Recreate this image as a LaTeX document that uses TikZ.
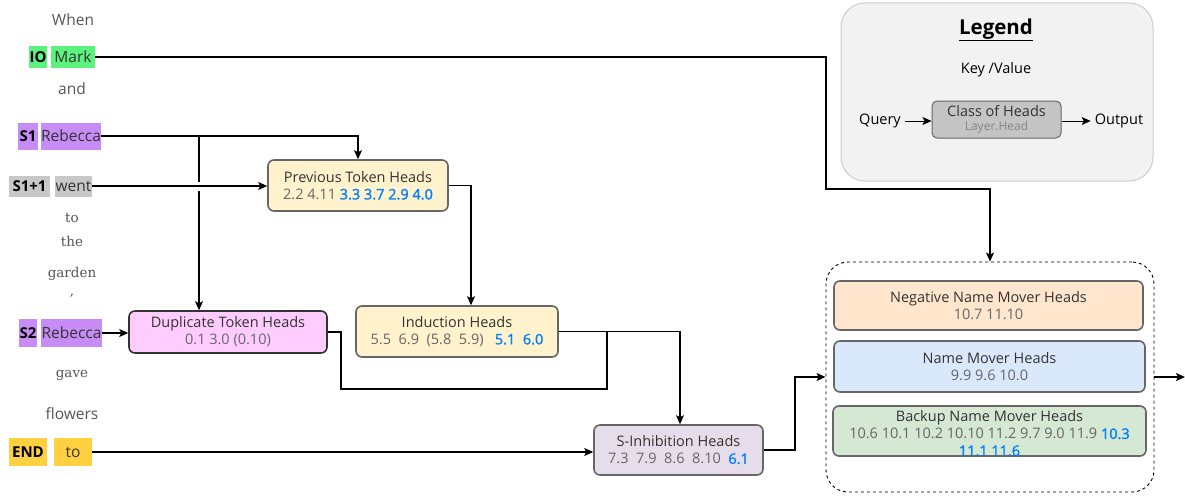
\documentclass[tikz,border=0pt]{standalone}
\usepackage{fontspec}
\setmainfont{Open Sans}
\newfontfamily\serifw{DejaVu Serif}
\newfontfamily\semib[FakeBold=1.4]{Open Sans}
\usetikzlibrary{arrows.meta,calc}
\definecolor{txt}{HTML}{333333}
\definecolor{num}{HTML}{666666}
\definecolor{word}{HTML}{555555}
\definecolor{hblue}{HTML}{007FFF}
\definecolor{iogreen}{HTML}{5CF27E}
\definecolor{spurple}{HTML}{C88CF7}
\definecolor{sgray}{HTML}{C8C8C8}
\definecolor{endyel}{HTML}{FFD040}
\definecolor{cream}{HTML}{FFF2CC}
\definecolor{pinkf}{HTML}{FFCCFF}
\definecolor{lilac}{HTML}{E6DDEA}
\definecolor{peach}{HTML}{FFE6CC}
\definecolor{lblue}{HTML}{DAE8FC}
\definecolor{lgreen}{HTML}{D5E8D4}
\definecolor{legbg}{HTML}{F2F2F2}
\definecolor{legbd}{HTML}{CCCCCC}
\definecolor{clsf}{HTML}{C4C4C4}
\newcommand{\bl}[1]{\textcolor{hblue}{\semib #1}}
\begin{document}
\begin{tikzpicture}[x=1pt,y=-1pt,
  font=\fontsize{14.5}{17}\selectfont,
  conn/.style={draw=black, line width=1.2pt, -{Stealth[length=9pt,width=8pt,inset=2pt]}},
  wire/.style={draw=black, line width=1.2pt},
  word/.style={text=word, inner sep=0pt, font=\fontsize{15.5}{18}\selectfont},
  sword/.style={text=word, inner sep=0pt, font=\serifw\fontsize{13.5}{16}\selectfont},
  tag/.style={inner sep=0pt, text=black, font=\fontsize{15}{18}\selectfont\bfseries},
  lab/.style={inner sep=0pt, text=txt, font=\fontsize{15.5}{18}\selectfont},
  head/.style={draw=num, line width=1.6pt, rounded corners=6pt, align=center, inner sep=0pt, text=txt},
]
\useasboundingbox (0,0) rectangle (1185,495);

% ---------- left column ----------
\node[word] (when) at (73,20) {When};
\node[tag, fill=iogreen, minimum width=18pt, minimum height=21pt] (io) at (38,57) {IO};
\node[lab, fill=iogreen, minimum width=44pt, minimum height=21pt] (mark) at (73,57) {Mark};
\node[word] (and) at (72,89) {and};
\node[tag, fill=spurple, minimum width=20pt, minimum height=27pt] (s1) at (28,136) {S1};
\node[lab, fill=spurple, minimum width=60pt, minimum height=27pt] (s1r) at (71,136) {Rebecca};
\node[tag, fill=sgray, minimum width=41pt, minimum height=21pt] (s11) at (29.5,186) {S1+1};
\node[lab, fill=sgray, minimum width=37pt, minimum height=21pt] (went) at (73.5,186) {went};
\node[sword] (to1) at (72,218) {to};
\node[sword] (the) at (72,241) {the};
\node[sword] (garden) at (72,274) {garden};
\node[sword] (comma) at (72,296) {,};
\node[tag, fill=spurple, minimum width=18pt, minimum height=28pt] (s2) at (28,333) {S2};
\node[lab, fill=spurple, minimum width=61pt, minimum height=28pt] (s2r) at (71.5,333) {Rebecca};
\node[sword] (gave) at (72,375) {gave};
\node[word] (flowers) at (72,414) {flowers};
\node[tag, fill=endyel, minimum width=38pt, minimum height=28pt] (end) at (28,452) {END};
\node[lab, fill=endyel, minimum width=38pt, minimum height=28pt] (to2) at (73,452) {to};

% ---------- head boxes ----------
\node[head, fill=cream, minimum width=180pt, minimum height=51pt] (pth) at (358,185.5)
  {Previous Token Heads\\ \textcolor{num}{2.2 4.11} \bl{3.3 3.7 2.9 4.0}};
\node[head, fill=pinkf, draw=txt, minimum width=198pt, minimum height=42pt] (dth) at (228,332)
  {Duplicate Token Heads\\ \textcolor{num}{0.1 3.0 (0.10)}};
\node[head, fill=cream, minimum width=202pt, minimum height=51pt] (ih) at (457,331.5)
  {Induction Heads\\ \textcolor{num}{5.5\ \ 6.9\ \ (5.8\ \ 5.9)}\ \ \ \bl{5.1\ \ 6.0}};
\node[head, fill=lilac, minimum width=169pt, minimum height=50pt] (sih) at (678.5,450)
  {S-Inhibition Heads\\ \textcolor{num}{7.3\ \ 7.9\ \ 8.6\ \ 8.10}\ \ \bl{6.1}};

% ---------- name mover group ----------
\node[draw=black, dashed, line width=0.9pt, rounded corners=22pt, minimum width=328pt, minimum height=230pt] (grp) at (990,377) {};
\node[head, fill=peach, minimum width=309pt, minimum height=49pt] (nnmh) at (988.5,305.5)
  {Negative Name Mover Heads\\ \textcolor{num}{10.7 11.10}};
\node[head, fill=lblue, minimum width=311pt, minimum height=51pt] (nmh) at (989.5,366.5)
  {Name Mover Heads\\ \textcolor{num}{9.9 9.6 10.0}};
\node[head, fill=lgreen, minimum width=313pt, minimum height=50pt] (bnmh) at (989.5,431) {};
\node[align=center, inner sep=0pt, text=txt] (bnmht) at (989.5,433.5)
  {Backup Name Mover Heads\\ \textcolor{num}{10.6 10.1 10.2 10.10 11.2 9.7 9.0 11.9} \bl{10.3}\\ \bl{11.1 11.6}};
\coordinate (out) at (1185,377);

% ---------- legend ----------
\node[draw=legbd, fill=legbg, line width=1pt, rounded corners=24pt, minimum width=312pt, minimum height=178pt] (legend) at (997,92) {};
\node[text=black, font=\fontsize{20.5}{23}\selectfont\bfseries] (legt) at (996,30) {\underline{Legend}};
\node[text=black, inner sep=0pt] (kv) at (996,70) {Key /Value};
\node[draw=num, fill=clsf, line width=1pt, rounded corners=5pt, minimum width=129pt, minimum height=37pt, inner sep=0pt, align=center, text=txt] (cls) at (996.5,119.5)
  {Class of Heads\\[-3pt] {\fontsize{12}{13}\selectfont\textcolor{num!80}{Layer.Head}}};
\node[text=black, inner sep=0pt] (query) at (880,121) {Query};
\node[text=black, inner sep=0pt] (output) at (1119,121) {Output};
\coordinate (qa) at ($(query.east)+(4pt,0)$);
\coordinate (ob) at ($(output.west)+(-4pt,0)$);
\draw[conn, line width=1pt] (qa) -- (cls.west |- qa);
\draw[conn, line width=1pt] (cls.east |- ob) -- (ob);

% ---------- connectors ----------
\coordinate (m1) at (826,57);
\coordinate (m2) at (826,189);
\coordinate (m3) at (990,189);
\draw[conn] (mark.east) -- (m1) -- (m2) -- (m3) -- (m3 |- grp.north);

\draw[conn] (s1r.east) -| (pth.north);
\coordinate (v0) at (199,136);
\coordinate (v1) at (199,182);
\coordinate (v2) at (199,191);
\draw[wire] (v0) -- (v1);
\draw[conn] (v2) -- (v2 |- dth.north);
\draw[conn] (went.east) -- (went.east -| pth.west);
\draw[conn] (s2r.east) -- (s2r.east -| dth.west);
\draw[conn] (to2.east) -- (to2.east -| sih.west);

\coordinate (p1) at (471,185.5);
\draw[conn] (pth.east) -- (p1) -- (p1 |- ih.north);
\coordinate (i1) at (680,331.5);
\draw[conn] (ih.east) -- (i1) -- (i1 |- sih.north);
\coordinate (d1) at (341,332);
\coordinate (d2) at (341,389);
\coordinate (d3) at (607,389);
\coordinate (d4) at (607,331.5);
\draw[wire] (dth.east) -- (d1) -- (d2) -- (d3) -- (d4);
\coordinate (s1c) at (795,450);
\coordinate (s2c) at (795,377);
\draw[conn] (sih.east) -- (s1c) -- (s2c) -- (grp.west);
\draw[conn] (grp.east) -- (out);
\end{tikzpicture}
\end{document}
